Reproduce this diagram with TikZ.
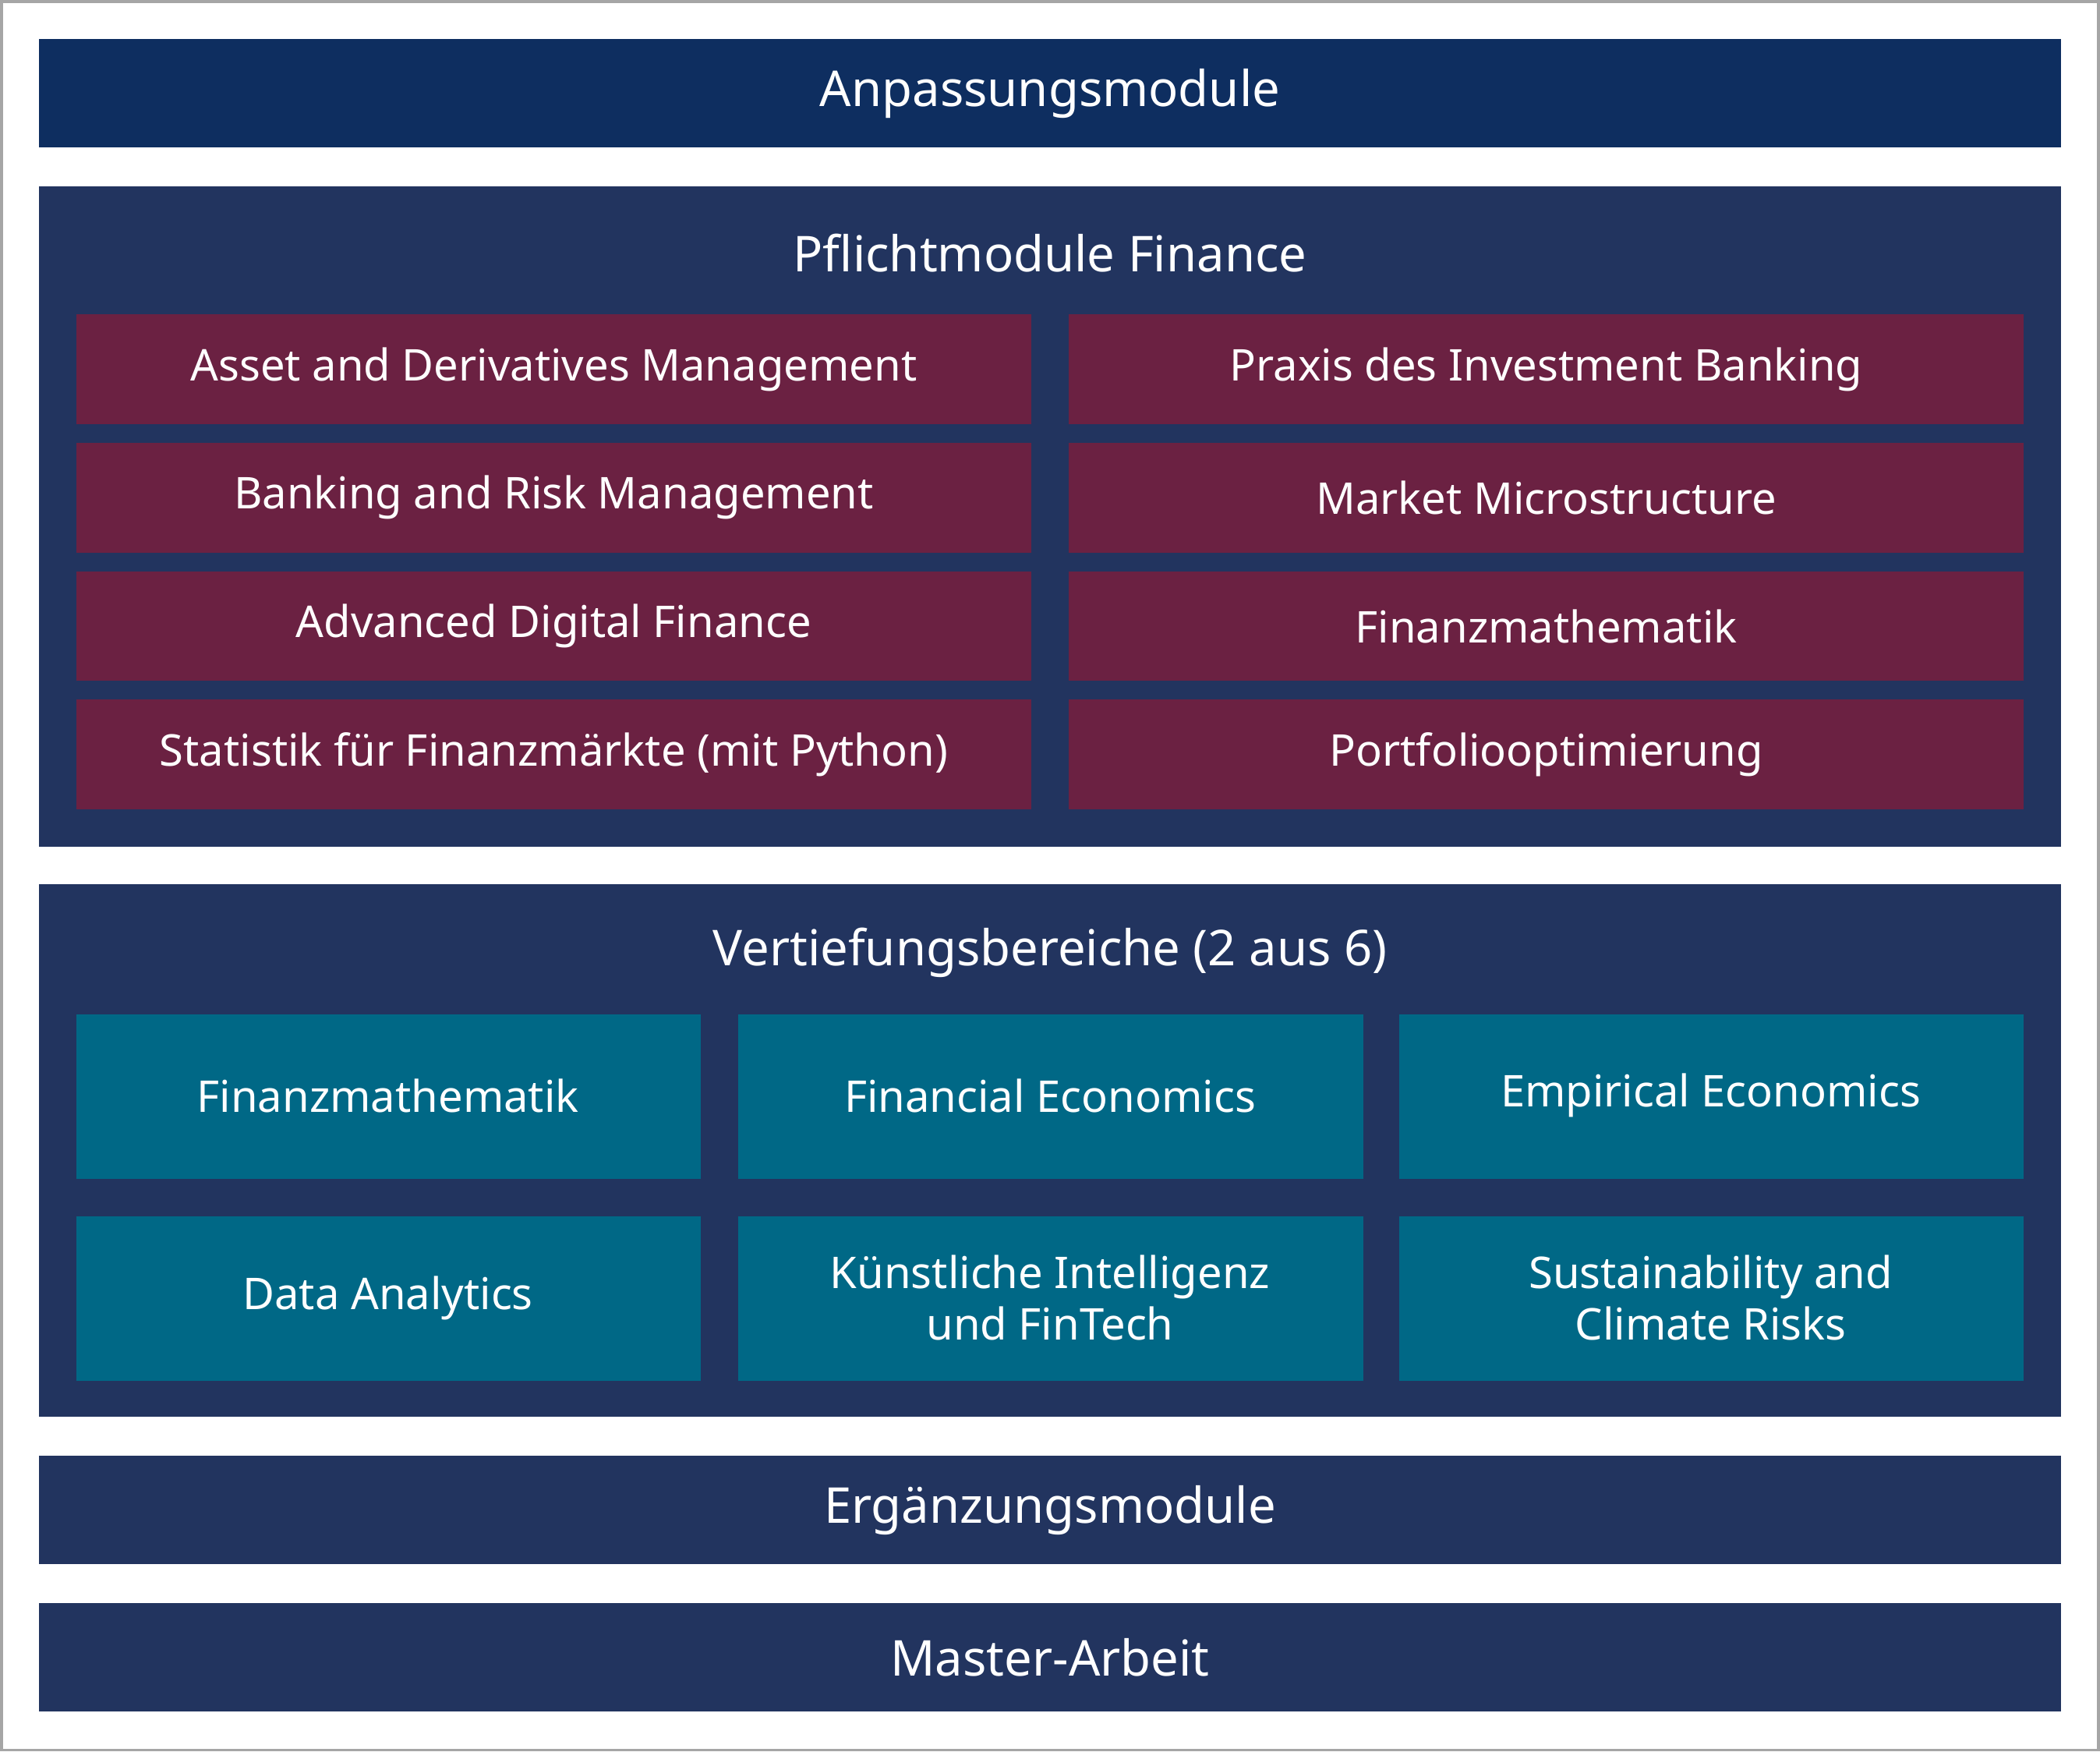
\documentclass[tikz,border=0pt]{standalone}
\usepackage{fontspec}
\setmainfont{Noto Sans}
\definecolor{topnavy}{HTML}{0E2E60}
\definecolor{navy}{HTML}{22345F}
\definecolor{maroon}{HTML}{6B2142}
\definecolor{teal}{HTML}{006886}
\begin{document}
\begin{tikzpicture}[x=0.01cm,y=-0.01cm,
  bar/.style={fill=navy,draw=none},
  title/.style={text=white,font=\fontsize{10.5pt}{12pt}\selectfont},
  mod/.style={text=white,font=\fontsize{9.3pt}{11pt}\selectfont,align=center}]
\draw[gray!70,line width=0.6pt,fill=white] (0,0) rectangle (1568,1307);
\useasboundingbox (0,0) rectangle (1568,1307);
% top
\fill[topnavy] (28,28) rectangle (1540,109);
\node[title] (anp) at (784,69) {Anpassungsmodule};
% Pflicht
\fill[navy] (28,138) rectangle (1540,632);
\node[title] (pfl) at (784,188) {Pflichtmodule Finance};
\foreach \i/\l/\r in {0/{Asset and Derivatives Management}/{Praxis des Investment Banking},
  1/{Banking and Risk Management}/{Market Microstructure},
  2/{Advanced Digital Finance}/{Finanzmathematik},
  3/{Statistik für Finanzmärkte (mit Python)}/{Portfoliooptimierung}}{
  \fill[maroon] (56,234+96*\i) rectangle (770,316+96*\i);
  \fill[maroon] (798,234+96*\i) rectangle (1512,316+96*\i);
  \node[mod] (pl\i) at (413,275+96*\i) {\l};
  \node[mod] (pr\i) at (1155,275+96*\i) {\r};
}
% Vertiefung
\fill[navy] (28,660) rectangle (1540,1058);
\node[title] (ver) at (784,711) {Vertiefungsbereiche (2 aus 6)};
\foreach \c/\x in {0/56,1/551,2/1045}{
  \fill[teal] (\x,757) rectangle (\x+467,880);
  \fill[teal] (\x,908) rectangle (\x+467,1031);
}
\node[mod] (v1) at (289,818) {Finanzmathematik};
\node[mod] (v2) at (784,818) {Financial Economics};
\node[mod] (v3) at (1278,818) {Empirical Economics};
\node[mod] (v4) at (289,969) {Data Analytics};
\node[mod] (v5) at (784,969) {Künstliche Intelligenz\\und FinTech};
\node[mod] (v6) at (1278,969) {Sustainability and\\Climate Risks};
% bottom
\fill[navy] (28,1087) rectangle (1540,1168);
\node[title] (erg) at (784,1128) {Ergänzungsmodule};
\fill[navy] (28,1197) rectangle (1540,1278);
\node[title] (mas) at (784,1238) {Master-Arbeit};
\end{tikzpicture}
\end{document}
